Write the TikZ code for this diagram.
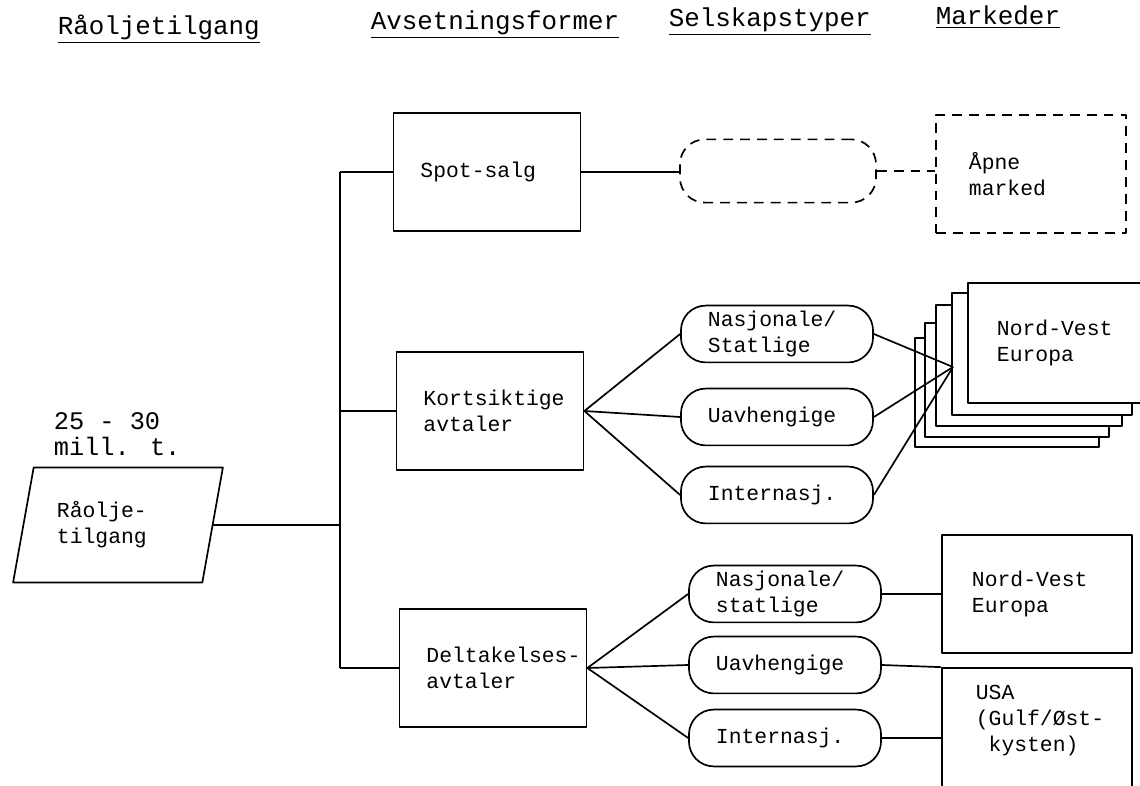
\documentclass[tikz,border=0pt]{standalone}
\usepackage{fontspec}
\setmainfont{Liberation Mono}
\usetikzlibrary{shapes.geometric,calc}

\begin{document}
\begin{tikzpicture}[x=0.025cm,y=-0.025cm,line join=round,line width=1.2pt,
  every node/.style={font=\fontsize{15.2}{18.5}\selectfont},
  head/.style={anchor=base west,inner sep=0pt,font=\fontsize{18.4}{20}\selectfont},
  formbox/.style={draw,minimum width=4.675cm,minimum height=2.95cm,text width=3.325cm,align=left},
  pill/.style={draw,rounded corners=0.62cm,minimum width=4.8cm,minimum height=1.42cm,text width=3.45cm,align=left},
  mktbox/.style={draw,minimum width=4.75cm,minimum height=2.95cm,text width=3.25cm,align=left},
  stackbox/.style={draw,fill=white},
  openline/.style={dash pattern=on 7pt off 5pt}]
  \clip (0,0) rectangle (1140,786);
  % column headings
  \node[head] (hsupply) at (57,35) {\underline{Råoljetilgang}};
  \node[head] (hforms) at (370,30) {\underline{Avsetningsformer}};
  \node[head] (htypes) at (668,27) {\underline{Selskapstyper}};
  \node[head] (hmarkets) at (935,25) {\underline{Markeder}};
  % supply
  \node[align=left,anchor=west,inner sep=0pt,font=\fontsize{18}{18}\selectfont] (amount) at (53,434) {25 - 30\\mill. t.};
  \node[draw,trapezium,trapezium left angle=74,trapezium right angle=106,trapezium stretches,
    minimum width=5.25cm,minimum height=2.875cm,text width=3.05cm,align=left] (raw) at (118,525) {Råolje-\\tilgang};
  % sales forms
  \node[formbox] (spot) at (487,172) {Spot-salg};
  \node[formbox] (kort) at (490,411) {Kortsiktige\\avtaler};
  \node[formbox] (delt) at (493,668) {\mbox{Deltakelses-}\\avtaler};
  \coordinate (ttop) at (340,172);
  \coordinate (tbot) at (340,668);
  % company types
  \node[pill,openline,minimum height=1.58cm,minimum width=4.9cm] (sp) at (778,171) {};
  \node[pill] (kn) at (777,334) {Nasjonale/\\Statlige};
  \node[pill] (ku) at (777,417) {Uavhengige};
  \node[pill] (ki) at (777,495) {Internasj.};
  \node[pill] (dn) at (785,594) {Nasjonale/\\statlige};
  \node[pill] (du) at (785,665) {Uavhengige};
  \node[pill] (di) at (785,738) {Internasj.};
  % markets
  \node[mktbox,openline,text width=3.1cm] (open) at (1031,174) {Åpne\\marked};
  \draw[stackbox] (915,338) rectangle (1099,447);
  \draw[stackbox] (925,323) rectangle (1109,437);
  \draw[stackbox] (936,305) rectangle (1122,426);
  \draw[stackbox] (952,293) rectangle (1132,415);
  \node[mktbox,fill=white,minimum width=4.55cm,minimum height=3cm,text width=3.1cm] (nwk) at (1059,343) {Nord-Vest\\Europa};
  \coordinate (conv) at (953,367);
  \node[mktbox] (nwd) at (1037,594) {Nord-Vest\\Europa};
  \node[mktbox,minimum height=3.3cm] (usa) at (1037,734) {};
  \node[anchor=north west,align=left,inner sep=0pt] (usatext) at (975,684) {USA\\(Gulf/Øst-\\~kysten)};
  % connectors
  \draw (ttop) -- (tbot);
  \draw (raw.east) -- (raw.east -| ttop);
  \draw (spot.west) -- (ttop);
  \draw (kort.west) -- (kort.west -| ttop);
  \draw (delt.west) -- (tbot);
  \draw (spot.east) -- (spot.east -| sp.west);
  \draw[openline] (sp.east) -- (sp.east -| open.west);
  \draw (kort.east) -- (kn.west);
  \draw (kort.east) -- (ku.west);
  \draw (kort.east) -- (ki.west);
  \draw (kn.east) -- (conv);
  \draw (ku.east) -- (conv);
  \draw (ki.east) -- (conv);
  \draw (delt.east) -- (dn.west);
  \draw (delt.east) -- (du.west);
  \draw (delt.east) -- (di.west);
  \draw (dn.east) -- (dn.east -| nwd.west);
  \draw (du.east) -- (usa.north west);
  \draw (di.east) -- (di.east -| usa.west);
\end{tikzpicture}
\end{document}
